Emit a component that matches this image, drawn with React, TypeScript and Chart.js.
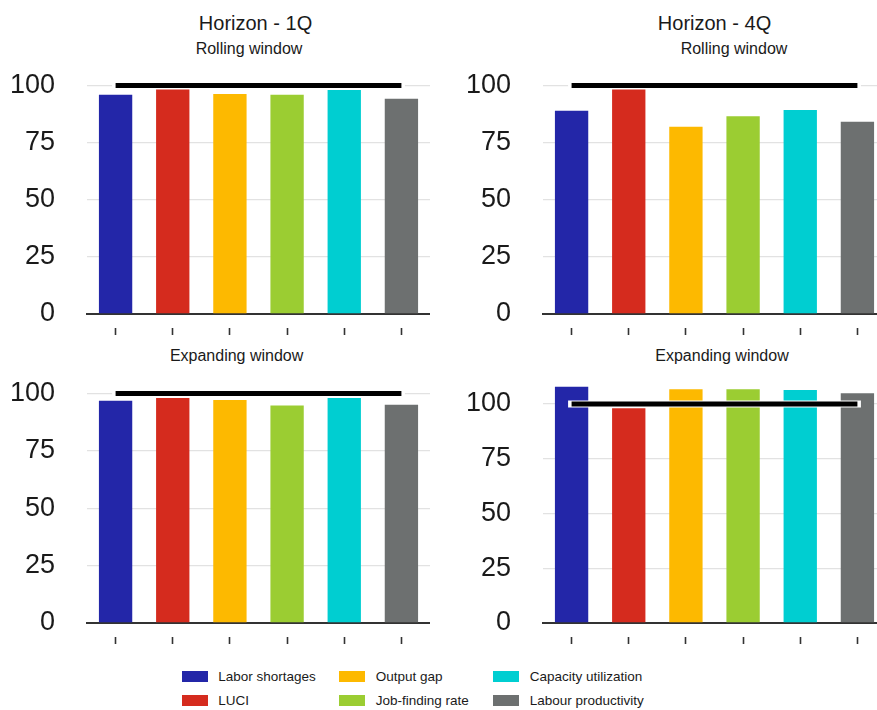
import React, { useEffect, useRef } from "react";
import { Chart, registerables } from "chart.js";

Chart.register(...registerables);

const categories = [
  "Labor shortages",
  "LUCI",
  "Output gap",
  "Job-finding rate",
  "Capacity utilization",
  "Labour productivity",
];
const colors = ["#2326a8", "#d52b1e", "#fdb900", "#9bcd32", "#00ced1", "#6d7070"];

const rolling1Q = [95.9, 98.2, 96.3, 95.9, 98.0, 94.2];
const rolling4Q = [88.9, 98.2, 81.9, 86.5, 89.3, 84.1];
const expanding1Q = [96.8, 98.0, 97.2, 94.8, 98.0, 95.1];
const expanding4Q = [107.8, 98.0, 106.7, 106.7, 106.4, 104.9];
const benchmark = [100, 100, 100, 100, 100, 100];
const yTicks = [0, 25, 50, 75, 100];

const FONT = "'Liberation Sans', Arial, sans-serif";

type PanelProps = {
  values: number[];
  yMax: number;
  left: number;
  top: number;
  width: number;
  height: number;
};

function Panel({ values, yMax, left, top, width, height }: PanelProps) {
  const ref = useRef<HTMLCanvasElement | null>(null);
  useEffect(() => {
    if (!ref.current) return;
    const chart = new Chart(ref.current, {
      type: "bar",
      data: {
        labels: categories,
        datasets: [
          {
            type: "line",
            data: benchmark,
            borderColor: "#000000",
            borderWidth: 5,
            borderCapStyle: "butt",
            pointRadius: 0,
            fill: false,
            clip: false,
            order: 0,
          } as any,
          {
            type: "line",
            data: benchmark,
            borderColor: "#ffffff",
            borderWidth: 7,
            borderCapStyle: "square",
            pointRadius: 0,
            fill: false,
            clip: false,
            order: 1,
          } as any,
          {
            type: "bar",
            data: values,
            backgroundColor: colors,
            borderWidth: 0,
            categoryPercentage: 1,
            barPercentage: 0.583,
            order: 2,
          },
        ],
      },
      options: {
        animation: false,
        responsive: false,
        maintainAspectRatio: false,
        layout: { padding: 0 },
        plugins: {
          legend: { display: false },
          tooltip: { enabled: false },
          title: { display: false },
        },
        scales: {
          x: {
            offset: true,
            ticks: { display: false },
            grid: {
              offset: false,
              drawOnChartArea: false,
              drawTicks: true,
              tickLength: 21,
              tickWidth: 1.6,
              tickColor: "#333333",
              tickBorderDash: [0, 13, 7, 100],
            },
            border: { display: true, color: "#333333", width: 2 },
            afterFit: (scale: any) => {
              scale.height = 26;
              scale.paddingLeft = 0;
              scale.paddingRight = 0;
            },
          },
          y: {
            min: 0,
            max: yMax,
            afterBuildTicks: (scale: any) => {
              scale.ticks = yTicks.map((v) => ({ value: v }));
            },
            ticks: {
              padding: 32,
              color: "#1a1a1a",
              font: { family: FONT, size: 27 },
            },
            grid: {
              drawTicks: false,
              lineWidth: 1.3,
              color: (ctx: any) =>
                ctx.tick && ctx.tick.value === 0 ? "rgba(0,0,0,0)" : "#e2e2e2",
            },
            border: { display: false },
            afterFit: (scale: any) => {
              scale.width = 87;
              scale.paddingTop = 0;
              scale.paddingBottom = 0;
            },
          },
        },
      } as any,
    });
    return () => chart.destroy();
  }, [values, yMax]);
  return (
    <canvas
      ref={ref}
      width={width}
      height={height}
      style={{ position: "absolute", left, top, width, height, display: "block" }}
    />
  );
}

function Label({ text, x, y, size }: { text: string; x: number; y: number; size: number }) {
  return (
    <div
      style={{
        position: "absolute",
        left: x,
        top: y,
        transform: "translate(-50%, -50%)",
        fontFamily: FONT,
        fontSize: size,
        lineHeight: `${size}px`,
        color: "#1a1a1a",
        whiteSpace: "nowrap",
      }}
    >
      {text}
    </div>
  );
}

const legendCols = [181.7, 339.3, 493.3];
const legendRows = [676.7, 700.7];

export default function App() {
  return (
    <div
      style={{
        position: "absolute",
        left: 0,
        top: 0,
        width: 877,
        height: 710,
        overflow: "hidden",
        background: "#ffffff",
      }}
    >
      <Label text="Horizon - 1Q" x={255.5} y={23.3} size={20} />
      <Label text="Horizon - 4Q" x={714.5} y={23.3} size={20} />
      <Label text="Rolling window" x={249} y={49} size={16} />
      <Label text="Rolling window" x={734} y={49} size={16} />
      <Label text="Expanding window" x={236.6} y={355.5} size={16} />
      <Label text="Expanding window" x={722} y={355.5} size={16} />

      <Panel values={rolling1Q} yMax={105} left={0} top={74} width={430} height={266} />
      <Panel values={rolling4Q} yMax={105} left={456} top={74} width={430} height={266} />
      <Panel values={expanding1Q} yMax={105} left={0} top={382} width={430} height={267} />
      <Panel values={expanding4Q} yMax={110} left={456} top={382} width={430} height={267} />

      {categories.map((c, i) => {
        const col = Math.floor(i / 2);
        const row = i % 2;
        const cy = legendRows[row];
        return (
          <React.Fragment key={c}>
            <div
              style={{
                position: "absolute",
                left: legendCols[col],
                top: cy - 5.5,
                width: 26,
                height: 11,
                background: colors[i],
              }}
            />
            <div
              style={{
                position: "absolute",
                left: legendCols[col] + 36.5,
                top: cy,
                transform: "translateY(-50%)",
                fontFamily: FONT,
                fontSize: 13.5,
                lineHeight: "14px",
                color: "#1a1a1a",
                whiteSpace: "nowrap",
              }}
            >
              {c}
            </div>
          </React.Fragment>
        );
      })}
    </div>
  );
}
